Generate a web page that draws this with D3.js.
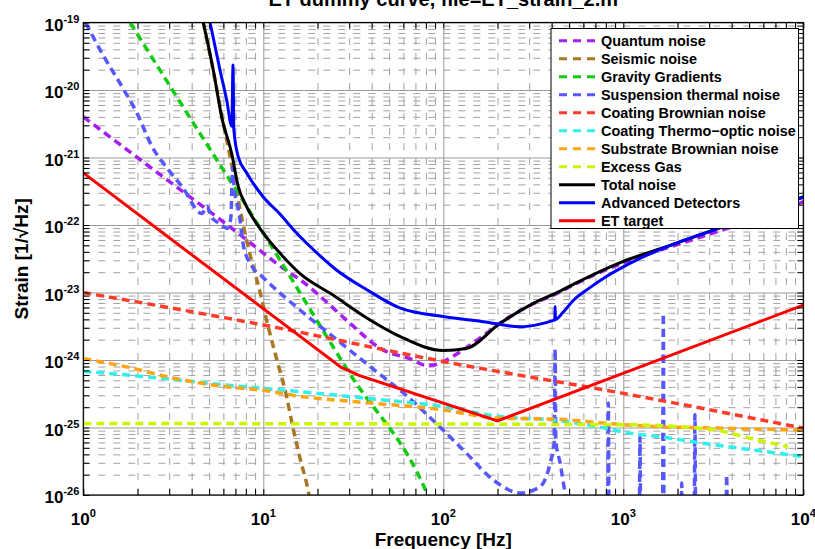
<!DOCTYPE html>
<html>
<head>
<meta charset="utf-8">
<script src="https://cdn.jsdelivr.net/npm/d3@7"></script>
<style>
body { margin: 0; background: #fff; }
svg { display: block; font-family: "Liberation Sans", Arial, Helvetica, sans-serif; }
</style>
</head>
<body>
<svg id="chart" width="815" height="549"></svg>
<script>
// axis ticks
const xTicks = [1, 10, 100, 1000, 10000]
const xExponents = ['0', '1', '2', '3', '4']
const yTicks = [1e-26, 1e-25, 1e-24, 1e-23, 1e-22, 1e-21, 1e-20, 1e-19]
const yExponents = ['-26', '-25', '-24', '-23', '-22', '-21', '-20', '-19']

const legendLabels = ['Quantum noise', 'Seismic noise', 'Gravity Gradients', 'Suspension thermal noise',
  'Coating Brownian noise', 'Coating Thermo\u2212optic noise', 'Substrate Brownian noise', 'Excess Gas',
  'Total noise', 'Advanced Detectors', 'ET target']

// curves (frequency in Hz, strain in 1/sqrt(Hz))
const freqQuantum = [1, 2.74, 6.85, 13.5, 16, 22, 30.3, 46.4, 65, 81, 90, 100, 124, 146, 174, 206, 316, 446, 527, 1000, 1668, 3300, 10000]
const strainQuantum = [4.0e-21, 5.3e-22, 8.5e-23, 2.1e-23, 1.55e-23, 7.6e-24, 3.5e-24, 1.4e-24, 1.05e-24, 8.3e-25, 8.5e-25, 9.5e-25, 1.32e-24, 1.78e-24, 2.5e-24, 3.5e-24, 6.8e-24, 1.02e-23, 1.29e-23, 2.75e-23, 4.4e-23, 7.9e-23, 2.2e-22]

const freqSeismic = [4.64, 5.3, 6.0, 6.67, 7.6, 8.2, 9.6, 10.4, 11.9, 13.5, 14.6, 16, 17.8, 18.5]
const strainSeismic = [1.0e-19, 1.78e-20, 3.2e-21, 7.9e-22, 1.26e-22, 5.0e-23, 1.0e-23, 4.0e-24, 1.0e-24, 2.8e-25, 1.0e-25, 3.5e-26, 1.12e-26, 6.3e-27]

const freqGravity = [1.82, 3.45, 10, 30.2, 81, 85]
const strainGravity = [1.0e-19, 6.6e-21, 7.6e-23, 6.3e-25, 1.07e-26, 7.9e-27]

const freqSuspension = [1.03, 1.27, 1.64, 1.99, 2.41, 2.98, 3.54, 4.56, 4.86, 5.15, 5.65, 6.3, 6.6, 6.75, 6.9, 7.1, 7.4, 7.75, 8.6, 10, 16, 25.6, 46.4, 57.3, 100, 134, 190, 268, 344, 392, 414, 418, 422, 446, 475, 520,
  818, 826, 834, 1226, 1238, 1250, 1651, 1668, 1685, 2089, 2110, 2131, 2475, 2500, 2525, 3716, 3753, 3790, 10000]
const strainSuspension = [1.0e-19, 3.5e-20, 1.12e-20, 4.5e-21, 1.45e-21, 6.5e-22, 3.7e-22, 1.48e-22, 1.9e-22, 1.32e-22, 1.07e-22, 8.9e-23, 1.26e-22, 7.2e-22, 3.2e-22, 2.3e-22, 1.26e-22, 5.0e-23, 2.5e-23, 1.66e-23, 5.5e-24, 2.0e-24, 5.6e-25, 3.6e-25, 9.1e-26, 4.2e-26, 1.66e-26, 1.07e-26, 1.32e-26, 2.95e-26, 6.3e-26, 1.48e-24, 6.3e-26, 2.95e-26, 1.07e-26, 4e-27,
  2.5e-27, 2.3e-25, 2.5e-27, 2.5e-27, 7.2e-26, 2.5e-27, 2.5e-27, 4.9e-24, 2.5e-27, 2.5e-27, 1.5e-26, 2.5e-27, 2.5e-27, 1.55e-25, 2.5e-27, 2.5e-27, 2.0e-26, 2.5e-27, 2.5e-27]

const freqCoatBrown = [1, 10, 100, 1000, 10000]
const strainCoatBrown = [1.0e-23, 3.3e-24, 9.5e-25, 3.2e-25, 9.8e-26]

const freqCoatThermo = [1, 2.67, 5.05, 10, 16, 33, 100, 206, 407, 627, 1140, 1668, 2700, 5100, 10000]
const strainCoatThermo = [6.8e-25, 5.4e-25, 4.5e-25, 3.8e-25, 3.4e-25, 2.8e-25, 2.04e-25, 1.45e-25, 1.29e-25, 1.1e-25, 8.1e-26, 7.2e-26, 5.9e-26, 4.7e-26, 3.7e-26]

const freqSubstrate = [1, 1.74, 3.16, 6.26, 10, 16, 33, 100, 198, 446, 815, 1668, 3300, 10000]
const strainSubstrate = [1.05e-24, 7.9e-25, 5.4e-25, 4.0e-25, 3.55e-25, 2.9e-25, 2.4e-25, 1.82e-25, 1.38e-25, 1.32e-25, 1.15e-25, 1.02e-25, 9.8e-26, 9.1e-26]

const freqGas = [1, 1000, 2400, 3300, 5100, 8200]
const strainGas = [1.15e-25, 1.1e-25, 1.0e-25, 9.1e-26, 6.9e-26, 5.2e-26]

const freqTotal = [4.64, 5.27, 5.87, 6.67, 7.26, 8.09, 10, 12.4, 16, 24.5, 37.6, 57.3, 100, 134, 206, 316, 446, 527, 1000, 1668, 3300, 10000]
const strainTotal = [1.0e-19, 2.0e-20, 4.0e-21, 1.15e-21, 3.7e-22, 1.86e-22, 7.6e-23, 3.8e-23, 1.9e-23, 9.1e-24, 4.2e-24, 2.24e-24, 1.38e-24, 1.48e-24, 3.47e-24, 6.9e-24, 1.05e-23, 1.32e-23, 2.9e-23, 4.6e-23, 8.8e-23, 2.6e-22]

const freqAdvanced = [5.06, 5.74, 6.26, 6.68, 6.79, 6.86, 7.26, 8.09, 10, 12.3, 15.3, 19, 25.6, 37.6, 57.3, 100, 167, 266, 344, 400, 416, 418, 420, 460, 527, 650, 809, 1000, 1238, 1896, 3300, 10000]
const strainAdvanced = [1.0e-19, 2.0e-20, 7.1e-21, 2.9e-21, 2.34e-20, 2.6e-21, 1.02e-21, 5.9e-22, 2.6e-22, 1.48e-22, 7.6e-23, 4.3e-23, 2.14e-23, 1.1e-23, 5.9e-24, 4.4e-24, 3.7e-24, 3.1e-24, 3.4e-24, 3.8e-24, 3.95e-24, 6.2e-24, 3.98e-24, 5.0e-24, 7.6e-24, 1.17e-23, 1.74e-23, 2.4e-23, 3.2e-23, 5.2e-23, 8.7e-23, 2.6e-22]

const freqET = [1, 27, 30, 34, 200, 10000]
const strainET = [5.9e-22, 7.8e-25, 6.9e-25, 5.9e-25, 1.25e-25, 6.5e-24]

const curveFreqs = [freqQuantum, freqSeismic, freqGravity, freqSuspension, freqCoatBrown, freqCoatThermo, freqSubstrate, freqGas, freqTotal, freqAdvanced, freqET]
const curveStrains = [strainQuantum, strainSeismic, strainGravity, strainSuspension, strainCoatBrown, strainCoatThermo, strainSubstrate, strainGas, strainTotal, strainAdvanced, strainET]

// styles
const curveColors = ['#a61ef0', '#aa7722', '#11cc11', '#5757ff', '#ff3b2b', '#2ff0ea', '#ffa514', '#cdf500', '#000000', '#0000ff', '#ff0000']
const curveDashed = [true, true, true, true, true, true, true, true, false, false, false]

const W = 815, H = 549
const margin = {top: 22.5, right: 11.7, bottom: 54, left: 83.3}
const plotW = W - margin.left - margin.right
const plotH = H - margin.top - margin.bottom

const svg = d3.select('#chart')

const x = d3.scaleLog().domain([1, 1e4]).range([margin.left, W - margin.right])
const y = d3.scaleLog().domain([1e-26, 1e-19]).range([H - margin.bottom, margin.top])

const minorX = []
xTicks.slice(0, -1).forEach(d => { for (let k = 2; k < 10; k++) minorX.push(d * k) })
const minorY = []
yTicks.slice(0, -1).forEach(d => { for (let k = 2; k < 10; k++) minorY.push(d * k) })

svg.append('rect').attr('x', margin.left).attr('y', margin.top)
  .attr('width', plotW).attr('height', plotH).attr('fill', '#fff')

// grid
const gridStyle = (g, color, dash) => {
  g.select('.domain').remove()
  g.selectAll('line').attr('stroke', color).attr('stroke-width', 1).attr('stroke-dasharray', dash)
}
svg.append('g').attr('transform', `translate(0,${H - margin.bottom})`)
  .call(d3.axisBottom(x).tickValues(minorX).tickSize(-plotH).tickFormat(''))
  .call(g => gridStyle(g, '#a3a3a3', '7,8'))
svg.append('g').attr('transform', `translate(${margin.left},0)`)
  .call(d3.axisLeft(y).tickValues(minorY).tickSize(-plotW).tickFormat(''))
  .call(g => gridStyle(g, '#a3a3a3', '7,8'))
svg.append('g').attr('transform', `translate(0,${H - margin.bottom})`)
  .call(d3.axisBottom(x).tickValues(xTicks).tickSize(-plotH).tickFormat(''))
  .call(g => gridStyle(g, '#9a9a9a', null))
svg.append('g').attr('transform', `translate(${margin.left},0)`)
  .call(d3.axisLeft(y).tickValues(yTicks).tickSize(-plotW).tickFormat(''))
  .call(g => gridStyle(g, '#9a9a9a', null))

// curves
svg.append('clipPath').attr('id', 'plotclip').append('rect')
  .attr('x', margin.left).attr('y', margin.top).attr('width', plotW).attr('height', plotH)

const line = d3.line().x(d => x(d[0])).y(d => y(d[1]))
const curves = svg.append('g').attr('clip-path', 'url(#plotclip)')
curveFreqs.forEach((fs, i) => {
  const pts = fs.map((f, j) => [f, curveStrains[i][j]])
  const smooth = i === 10 ? d3.curveLinear : d3.curveMonotoneX
  curves.append('path')
    .attr('d', line.curve(smooth)(pts))
    .attr('fill', 'none')
    .attr('stroke', curveColors[i])
    .attr('stroke-width', curveDashed[i] ? 3.5 : 3)
    .attr('stroke-dasharray', curveDashed[i] ? '8,5' : null)
})

// box and inside ticks
const tickStyle = g => {
  g.select('.domain').remove()
  g.selectAll('line').attr('stroke', '#000').attr('stroke-width', 1)
}
const allX = xTicks.concat(minorX), allY = yTicks.concat(minorY)
svg.append('g').attr('transform', `translate(0,${H - margin.bottom})`)
  .call(d3.axisBottom(x).tickValues(allX).tickSize(-6).tickFormat('')).call(tickStyle)
svg.append('g').attr('transform', `translate(0,${margin.top})`)
  .call(d3.axisTop(x).tickValues(allX).tickSize(-6).tickFormat('')).call(tickStyle)
svg.append('g').attr('transform', `translate(${margin.left},0)`)
  .call(d3.axisLeft(y).tickValues(allY).tickSize(-6).tickFormat('')).call(tickStyle)
svg.append('g').attr('transform', `translate(${W - margin.right},0)`)
  .call(d3.axisRight(y).tickValues(allY).tickSize(-6).tickFormat('')).call(tickStyle)
svg.append('rect').attr('x', margin.left).attr('y', margin.top)
  .attr('width', plotW).attr('height', plotH)
  .attr('fill', 'none').attr('stroke', '#000').attr('stroke-width', 1.2)

// tick labels with superscripts
const xl = svg.append('g').selectAll('text').data(xTicks).enter().append('text')
  .attr('x', d => x(d)).attr('y', H - margin.bottom + 30)
  .attr('text-anchor', 'middle').attr('font-weight', 'bold').attr('font-size', 17)
xl.append('tspan').text('10')
xl.append('tspan').attr('dy', -8).attr('font-size', 11).text((d, i) => xExponents[i])

const yl = svg.append('g').selectAll('text').data(yTicks).enter().append('text')
  .attr('x', margin.left - 4).attr('y', d => y(d) + 8)
  .attr('text-anchor', 'end').attr('font-weight', 'bold').attr('font-size', 17)
yl.append('tspan').text('10')
yl.append('tspan').attr('dy', -8).attr('font-size', 11).text((d, i) => yExponents[i])

// titles
svg.append('text').attr('x', margin.left + plotW / 2).attr('y', 5.5)
  .attr('text-anchor', 'middle').attr('font-weight', 'bold').attr('font-size', 20)
  .text('ET dummy curve, file=ET_strain_2.m')
svg.append('text').attr('x', margin.left + plotW / 2).attr('y', H - 3)
  .attr('text-anchor', 'middle').attr('font-weight', 'bold').attr('font-size', 19)
  .text('Frequency [Hz]')
svg.append('text').attr('transform', `translate(28,${margin.top + plotH / 2}) rotate(-90)`)
  .attr('text-anchor', 'middle').attr('font-weight', 'bold').attr('font-size', 19)
  .text('Strain [1/\u221AHz]')

// legend
const legend = svg.append('g')
legend.append('rect').attr('x', 551).attr('y', 28.5).attr('width', 247.5).attr('height', 200)
  .attr('fill', '#fff').attr('stroke', '#000').attr('stroke-width', 1)
legendLabels.forEach((label, i) => {
  const ly = 40.7 + i * 18
  legend.append('line').attr('x1', 559).attr('x2', 595).attr('y1', ly).attr('y2', ly)
    .attr('stroke', curveColors[i]).attr('stroke-width', 3)
    .attr('stroke-dasharray', curveDashed[i] ? '8,6' : null)
  legend.append('text').attr('x', 601).attr('y', ly + 5)
    .attr('font-weight', 'bold').attr('font-size', 14.4).text(label)
})
</script>
</body>
</html>
